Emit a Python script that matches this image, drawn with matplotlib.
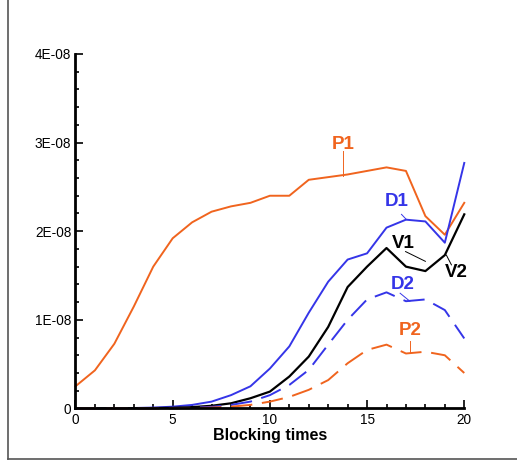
import matplotlib
matplotlib.use("Agg")
import matplotlib.pyplot as plt
from matplotlib.ticker import FuncFormatter, MultipleLocator
from matplotlib.lines import Line2D

plt.rcParams["font.family"] = ["Liberation Sans", "DejaVu Sans"]

# blocking times 0..20
times = list(range(21))

p1 = [0.25, 0.43, 0.73, 1.15, 1.60, 1.92, 2.10, 2.22, 2.28, 2.32, 2.40,
      2.40, 2.58, 2.61, 2.64, 2.68, 2.72, 2.68, 2.17, 1.96, 2.32]
d1 = [0.0, 0.001, 0.002, 0.005, 0.01, 0.02, 0.04, 0.077, 0.15, 0.25, 0.45,
      0.70, 1.08, 1.43, 1.68, 1.75, 2.04, 2.13, 2.11, 1.87, 2.77]
v1 = [0.0, 0.0, 0.001, 0.002, 0.004, 0.007, 0.015, 0.03, 0.058, 0.115, 0.19,
      0.36, 0.585, 0.92, 1.37, 1.60, 1.81, 1.60, 1.55, 1.73, 2.19]
d2 = [0.0, 0.0, 0.0, 0.0, 0.001, 0.003, 0.008, 0.018, 0.04, 0.077, 0.15,
      0.265, 0.435, 0.72, 1.00, 1.23, 1.31, 1.21, 1.23, 1.11, 0.79]
p2 = [0.0, 0.0, 0.0, 0.0, 0.0, 0.002, 0.004, 0.01, 0.02, 0.04, 0.077,
      0.13, 0.21, 0.32, 0.51, 0.66, 0.72, 0.62, 0.64, 0.60, 0.40]

scale = 1e-8
orange = "#F0641E"
blue = "#3535E8"

fig = plt.figure(figsize=(5.17, 4.61), dpi=100)
ax = fig.add_axes([0.146, 0.114, 0.752, 0.769])

dash = (0, (11, 5))
ax.plot(times, [v * scale for v in p1], color=orange, lw=1.4, clip_on=False)
ax.plot(times, [v * scale for v in d1], color=blue, lw=1.4, clip_on=False)
ax.plot(times, [v * scale for v in v1], color="black", lw=1.6, clip_on=False)
ax.plot(times, [v * scale for v in d2], color=blue, lw=1.4, linestyle=dash,
        clip_on=False)
ax.plot(times, [v * scale for v in p2], color=orange, lw=1.4, linestyle=dash,
        clip_on=False)

ax.set_xlim(0, 20)
ax.set_ylim(0, 4e-8)
ax.xaxis.set_major_locator(MultipleLocator(5))
ax.xaxis.set_minor_locator(MultipleLocator(1))
ax.yaxis.set_major_locator(MultipleLocator(1e-8))
ax.yaxis.set_minor_locator(MultipleLocator(2e-9))


def sci_fmt(v, pos):
    if abs(v) < 1e-12:
        return "0"
    return "%dE-08" % round(v / 1e-8)


ax.yaxis.set_major_formatter(FuncFormatter(sci_fmt))
ax.tick_params(which="both", direction="in", width=1.2, labelsize=9.8, pad=3)
ax.tick_params(which="major", length=6)
ax.tick_params(which="minor", length=3)
for side in ["top", "right"]:
    ax.spines[side].set_visible(False)
for side in ["left", "bottom"]:
    ax.spines[side].set_linewidth(2)
ax.set_xlabel("Blocking times", fontsize=11.5, fontweight="bold", labelpad=1)

# curve labels with leader lines
labels = [
    ("P1", 13.78, 2.98, [(13.76, 2.90), (13.76, 2.62)], orange),
    ("D1", 16.5, 2.33, [(16.77, 2.19), (17.03, 2.13)], blue),
    ("V1", 16.87, 1.86, [(16.98, 1.77), (18.0, 1.66)], "black"),
    ("V2", 19.6, 1.53, [(19.34, 1.62), (19.08, 1.73)], "black"),
    ("D2", 16.85, 1.40, [(16.7, 1.30), (17.2, 1.21)], blue),
    ("P2", 17.2, 0.88, [(17.2, 0.76), (17.2, 0.64)], orange),
]
for text, tx, ty, pts, col in labels:
    ax.text(tx, ty * scale, text, color=col, fontsize=13.5, fontweight="bold",
            ha="center", va="center")
    ax.plot([pts[0][0], pts[1][0]], [pts[0][1] * scale, pts[1][1] * scale],
            color=col, lw=0.7)

# frame lines around the picture (left and bottom only)
fig.add_artist(Line2D([8 / 517, 8 / 517], [2 / 461, 1.0], color="#555555",
                      lw=1.2, transform=fig.transFigure))
fig.add_artist(Line2D([8 / 517, 1.0], [2 / 461, 2 / 461], color="#555555",
                      lw=1.2, transform=fig.transFigure))

fig.savefig("out.png", dpi=100)
